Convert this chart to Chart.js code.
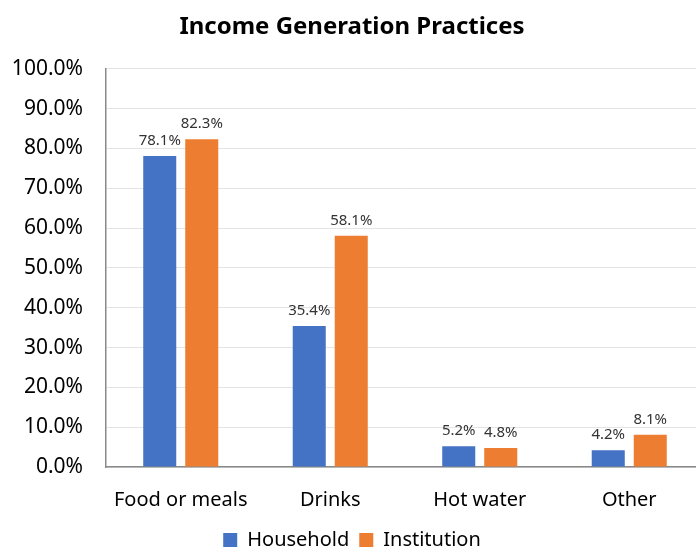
<!DOCTYPE html>
<html lang="en">
<head>
<meta charset="UTF-8">
<title>Income Generation Practices</title>
<script src="https://cdn.jsdelivr.net/npm/chart.js"></script>
<style>
  html, body { margin: 0; padding: 0; background: #fff; overflow: hidden; }
  #wrap { position: relative; width: 717px; height: 560px; }
</style>
</head>
<body>
<div id="wrap"><canvas id="incomeChart"></canvas></div>
<script>
// categories and percentages
const categories = ['Food or meals', 'Drinks', 'Hot water', 'Other'];
const household = [78.1, 35.4, 5.2, 4.2];
const institution = [82.3, 58.1, 4.8, 8.1];
const yTicks = [0, 10, 20, 30, 40, 50, 60, 70, 80, 90, 100];

const FONT = '"Noto Sans", "DejaVu Sans", sans-serif';

// value labels above each bar
const barLabels = {
  id: 'barLabels',
  afterDatasetsDraw(chart) {
    const ctx = chart.ctx;
    ctx.save();
    ctx.font = '15px ' + FONT;
    ctx.fillStyle = '#333';
    ctx.textAlign = 'center';
    ctx.textBaseline = 'alphabetic';
    chart.data.datasets.forEach((ds, i) => {
      chart.getDatasetMeta(i).data.forEach((bar, j) => {
        ctx.fillText(ds.data[j].toFixed(1) + '%', bar.x, bar.y - 11);
      });
    });
    ctx.restore();
  }
};

new Chart(document.getElementById('incomeChart'), {
  type: 'bar',
  data: {
    labels: categories,
    datasets: [
      { label: 'Household', data: household, backgroundColor: '#4472C4' },
      { label: 'Institution', data: institution, backgroundColor: '#ED7D31' }
    ]
  },
  options: {
    responsive: true,
    maintainAspectRatio: false,
    animation: false,
    layout: { padding: { left: 0, right: 13, top: 0, bottom: 0 } },
    datasets: { bar: { categoryPercentage: 0.562, barPercentage: 0.786 } },
    plugins: {
      title: {
        display: true,
        text: 'Income Generation Practices',
        color: '#000',
        font: { family: FONT, size: 24, weight: 'bold', lineHeight: 1.2 },
        padding: { top: 13, bottom: 27 }
      },
      legend: {
        position: 'bottom',
        labels: {
          color: '#000',
          font: { family: FONT, size: 20 },
          boxWidth: 14,
          boxHeight: 14,
          padding: 10
        }
      },
      tooltip: { enabled: false }
    },
    scales: {
      x: {
        grid: { display: false },
        border: { display: true, color: '#8a8a8a', width: 1.5 },
        ticks: { color: '#000', font: { family: FONT, size: 20 }, padding: 13 },
        afterFit(scale) { scale.height = 53; }
      },
      y: {
        min: 0,
        max: 100,
        afterBuildTicks(scale) { scale.ticks = yTicks.map(v => ({ value: v })); },
        grid: { color: '#e4e4e4', lineWidth: 1, drawTicks: false },
        border: { display: true, color: '#8a8a8a', width: 1.5 },
        ticks: {
          color: '#000',
          font: { family: FONT, size: 21 },
          padding: 23,
          callback: v => v.toFixed(1) + '%'
        },
        afterFit(scale) { scale.width = 106; }
      }
    }
  },
  plugins: [barLabels]
});
</script>
</body>
</html>
